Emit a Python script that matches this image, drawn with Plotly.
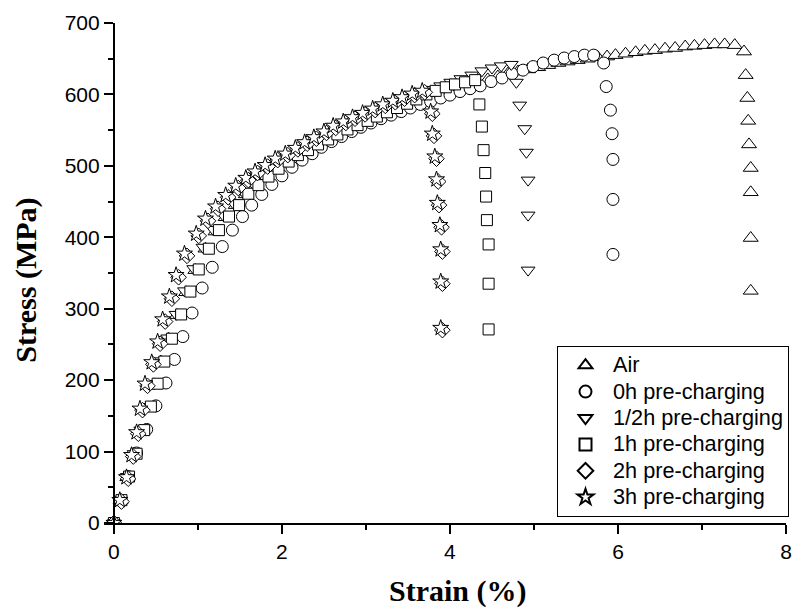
import plotly.graph_objects as go

# ---------------- data (strain %, stress MPa) ----------------
air_strain = [0.00, 0.08, 0.16, 0.24, 0.32, 0.40, 0.48, 0.56, 0.65, 0.75, 0.86, 0.97, 1.09, 1.21, 1.33,
              1.45, 1.57, 1.69, 1.81, 1.93, 2.05, 2.17, 2.29, 2.41, 2.53, 2.65, 2.77, 2.89, 3.01, 3.13,
              3.25, 3.37, 3.49, 3.61, 3.73, 3.85, 3.97, 4.09, 4.21, 4.33, 4.45, 4.57, 4.69, 4.81, 4.93,
              5.05, 5.17, 5.29, 5.40, 5.52, 5.64, 5.76, 5.87, 5.97, 6.09, 6.21, 6.32, 6.44, 6.56, 6.68,
              6.80, 6.91, 7.03, 7.15, 7.27, 7.39, 7.50, 7.52, 7.54, 7.55, 7.56, 7.58, 7.58, 7.58, 7.58]
air_stress = [0, 32, 64, 97, 129, 161, 194, 226, 258, 291, 323, 354, 384, 408, 428,
              445, 460, 473, 485, 496, 506, 515, 523, 531, 538, 545, 551, 557, 563, 569,
              575, 580, 585, 590, 595, 600, 604, 609, 613, 617, 621, 625, 629, 632, 635,
              638, 641, 644, 646, 648, 650, 652, 653, 655, 657, 659, 661, 662, 664, 665,
              667, 668, 669, 670, 670, 669, 660, 627, 595, 563, 530, 497, 463, 399, 325]

h0_strain = [0.00, 0.08, 0.17, 0.27, 0.39, 0.50, 0.62, 0.72, 0.82, 0.93, 1.05, 1.17, 1.29, 1.41, 1.53,
             1.64, 1.76, 1.88, 2.00, 2.12, 2.24, 2.36, 2.47, 2.59, 2.71, 2.83, 2.94, 3.06, 3.18, 3.30,
             3.42, 3.53, 3.65, 3.77, 3.89, 4.00, 4.12, 4.24, 4.36, 4.49, 4.62, 4.74, 4.87, 4.99, 5.11,
             5.24, 5.36, 5.48, 5.60, 5.71, 5.83, 5.86, 5.91, 5.93, 5.94, 5.94, 5.94]
h0_stress = [0, 32, 65, 98, 131, 164, 196, 229, 261, 294, 329, 358, 387, 410, 429,
             445, 460, 474, 486, 498, 508, 517, 526, 534, 541, 548, 554, 560, 566, 571,
             576, 581, 586, 590, 595, 599, 604, 608, 612, 618, 623, 629, 634, 639, 644,
             648, 651, 653, 655, 655, 644, 611, 578, 545, 509, 453, 376]

h05_strain = [0.00, 0.08, 0.16, 0.24, 0.32, 0.40, 0.48, 0.56, 0.64, 0.74, 0.84, 0.95, 1.06, 1.18, 1.30,
              1.42, 1.54, 1.65, 1.77, 1.89, 2.01, 2.13, 2.24, 2.36, 2.48, 2.60, 2.71, 2.83, 2.95, 3.07,
              3.18, 3.30, 3.42, 3.54, 3.65, 3.77, 3.89, 4.01, 4.13, 4.26, 4.38, 4.50, 4.61, 4.73, 4.79,
              4.83, 4.89, 4.91, 4.93, 4.93, 4.93]
h05_stress = [0, 32, 65, 97, 130, 163, 195, 227, 259, 292, 325, 356, 386, 411, 431,
              448, 463, 476, 487, 498, 508, 517, 525, 533, 540, 547, 554, 560, 566, 572,
              578, 584, 590, 596, 601, 607, 612, 617, 622, 627, 633, 637, 640, 642, 617,
              585, 552, 519, 480, 431, 354]

h1_strain = [0.00, 0.09, 0.18, 0.27, 0.36, 0.44, 0.52, 0.60, 0.69, 0.80, 0.91, 1.01, 1.13, 1.25, 1.37,
             1.49, 1.60, 1.72, 1.84, 1.96, 2.08, 2.19, 2.31, 2.43, 2.55, 2.66, 2.78, 2.90, 3.02, 3.13,
             3.25, 3.37, 3.49, 3.60, 3.72, 3.83, 3.95, 4.06, 4.18, 4.30, 4.35, 4.38, 4.40, 4.42, 4.43,
             4.44, 4.46, 4.46, 4.46]
h1_stress = [0, 32, 65, 97, 130, 163, 195, 226, 258, 292, 324, 355, 384, 410, 429,
             445, 461, 473, 485, 496, 506, 515, 522, 530, 537, 544, 551, 557, 563, 569,
             575, 581, 587, 593, 600, 605, 610, 614, 617, 620, 586, 555, 522, 490, 457,
             424, 390, 335, 271]

h2_strain = [0.00, 0.09, 0.17, 0.23, 0.29, 0.34, 0.40, 0.47, 0.55, 0.61, 0.69, 0.77, 0.87, 1.01, 1.12,
             1.24, 1.36, 1.48, 1.60, 1.71, 1.83, 1.95, 2.07, 2.19, 2.30, 2.41, 2.53, 2.64, 2.76, 2.87,
             2.99, 3.11, 3.23, 3.35, 3.46, 3.58, 3.70, 3.79, 3.81, 3.84, 3.86, 3.87, 3.90, 3.91, 3.91,
             3.91]
h2_stress = [0, 30, 62, 93, 125, 158, 192, 222, 251, 282, 314, 344, 374, 402, 423,
             440, 456, 469, 480, 490, 499, 508, 515, 523, 531, 538, 546, 553, 560, 566,
             572, 578, 584, 589, 594, 599, 603, 573, 542, 510, 478, 445, 414, 380, 335,
             270]

h3_strain = [0.00, 0.07, 0.15, 0.21, 0.27, 0.31, 0.37, 0.45, 0.52, 0.58, 0.66, 0.74, 0.84, 0.98, 1.09,
             1.21, 1.33, 1.45, 1.57, 1.68, 1.80, 1.92, 2.04, 2.16, 2.27, 2.38, 2.50, 2.61, 2.73, 2.84,
             2.96, 3.08, 3.20, 3.32, 3.43, 3.55, 3.67, 3.77, 3.79, 3.82, 3.84, 3.85, 3.88, 3.89, 3.89,
             3.89]
h3_stress = [0, 32, 64, 95, 127, 160, 195, 225, 254, 285, 317, 347, 377, 405, 426,
             443, 459, 472, 483, 492, 501, 510, 517, 525, 533, 540, 548, 556, 562, 568,
             574, 580, 586, 591, 596, 601, 605, 576, 545, 513, 481, 448, 417, 383, 338,
             273]

series_names = ["Air", "0h pre-charging", "1/2h pre-charging", "1h pre-charging",
                "2h pre-charging", "3h pre-charging"]
x_ticks = [0, 2, 4, 6, 8]
y_ticks = [0, 100, 200, 300, 400, 500, 600, 700]
x_title = "Strain (%)"
y_title = "Stress (MPa)"

# ---------------- figure ----------------
series = [
    (air_strain, air_stress, "triangle-up", 13),
    (h0_strain, h0_stress, "circle", 12),
    (h05_strain, h05_stress, "triangle-down", 12),
    (h1_strain, h1_stress, "square", 11),
    (h2_strain, h2_stress, "diamond", 12),
    (h3_strain, h3_stress, "star", 12),
]

fig = go.Figure()
for name, (xs, ys, sym, sz) in zip(series_names, series):
    assert len(xs) == len(ys), name
    fig.add_trace(go.Scatter(
        x=xs, y=ys, mode="markers",
        name='<span style="font-size:21.7px">' + name + '</span>',
        marker=dict(symbol=sym, size=sz, color="white",
                    line=dict(color="black", width=1)),
    ))

W, H = 798, 608
ml, mr, mt, mb = 104, 6, 23, 85
x_lo, x_hi = -0.118, 8
pw, ph = W - ml - mr, H - mt - mb

fig.update_layout(
    width=W, height=H,
    margin=dict(l=ml, r=mr, t=mt, b=mb),
    plot_bgcolor="white", paper_bgcolor="white",
    font=dict(family="Liberation Sans, Arial", color="black", size=21),
    legend=dict(
        x=1.0044, y=0.012, xanchor="right", yanchor="bottom",
        bordercolor="black", borderwidth=1, bgcolor="white",
        font=dict(family="Liberation Sans, Arial", size=18, color="black"),
        itemsizing="constant", itemwidth=45, tracegroupgap=0,
    ),
    xaxis=dict(
        range=[x_lo, x_hi], tickvals=x_ticks, ticktext=[str(v) for v in x_ticks],
        showline=True, linecolor="black", linewidth=2, mirror=False,
        ticks="outside", ticklen=9, tickwidth=2, tickcolor="black",
        minor=dict(ticks="outside", ticklen=5, tickwidth=2, tickcolor="black", dtick=1, tick0=0),
        showgrid=False, zeroline=False,
        tickfont=dict(family="Liberation Sans, Arial", size=21),
    ),
    yaxis=dict(
        range=[0, 700], tickvals=y_ticks, ticktext=[str(v) for v in y_ticks],
        anchor="free", position=(0 - x_lo) / (x_hi - x_lo),
        showline=True, linecolor="black", linewidth=2,
        ticks="outside", ticklen=9, tickwidth=2, tickcolor="black",
        minor=dict(ticks="outside", ticklen=5, tickwidth=2, tickcolor="black", dtick=50, tick0=0),
        showgrid=False, zeroline=False,
        tickfont=dict(family="Liberation Sans, Arial", size=21),
    ),
    annotations=[
        dict(text="<b>" + x_title + "</b>", xref="paper", yref="paper",
             x=(461 - ml) / pw, y=(H - mb - 591) / ph, xanchor="center", yanchor="middle",
             showarrow=False,
             font=dict(family="Liberation Serif, Times New Roman", size=30, color="black")),
        dict(text="<b>" + y_title + "</b>", xref="paper", yref="paper",
             x=(25 - ml) / pw, y=(H - mb - 280) / ph, xanchor="center", yanchor="middle",
             textangle=-90, showarrow=False,
             font=dict(family="Liberation Serif, Times New Roman", size=30, color="black")),
    ],
)

fig.write_html("out.html")
